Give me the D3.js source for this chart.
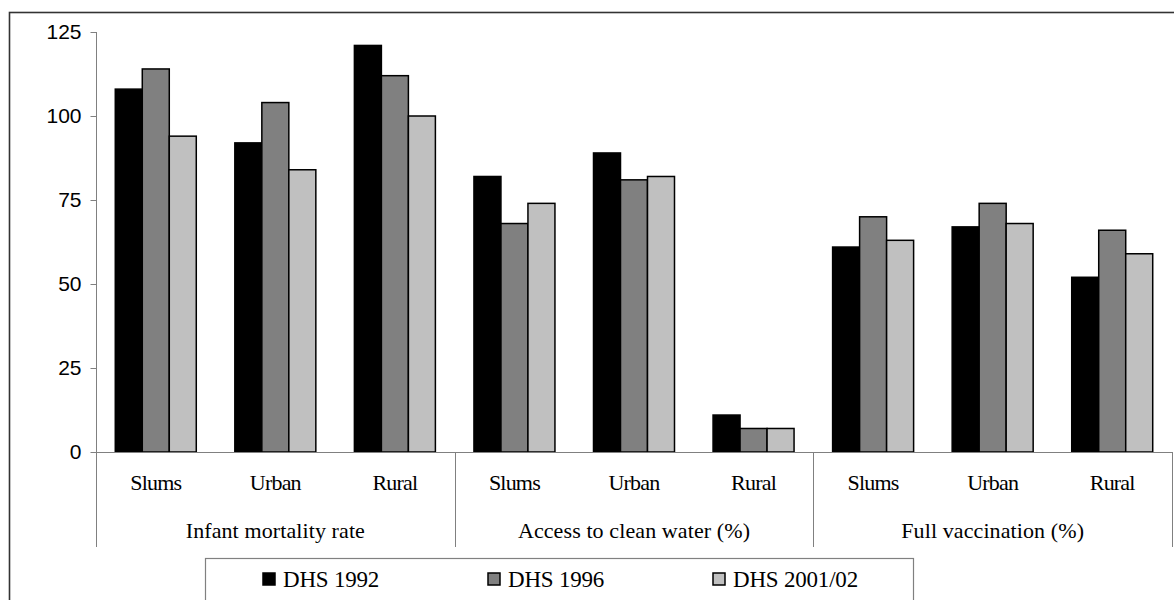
<!DOCTYPE html>
<html>
<head>
<meta charset="utf-8">
<script src="https://cdn.jsdelivr.net/npm/d3@7"></script>
<style>
  html, body { margin: 0; padding: 0; background: #fff; }
  svg { display: block; }
  .serif { font-family: "Liberation Serif", "Times New Roman", Times, serif; }
  .sans { font-family: "Liberation Sans", Arial, Helvetica, sans-serif; }
</style>
</head>
<body>
<svg id="chart" width="1174" height="600"></svg>
<script>
// ---- Data ----
const groups = ["Infant mortality rate", "Access to clean water (%)", "Full vaccination (%)"];
const subcategories = ["Slums", "Urban", "Rural"];
const seriesNames = ["DHS 1992", "DHS 1996", "DHS 2001/02"];
const dhs1992 = [108, 92, 121, 82, 89, 11, 61, 67, 52];
const dhs1996 = [114, 104, 112, 68, 81, 7, 70, 74, 66];
const dhs2001 = [94, 84, 100, 74, 82, 7, 63, 68, 59];
const yTicks = [0, 25, 50, 75, 100, 125];

// ---- Layout ----
const svg = d3.select("#chart");
const plotLeft = 96, plotRight = 1172, plotTop = 32, plotBottom = 452;
const colors = ["#000000", "#808080", "#c0c0c0"];
const seriesValues = [dhs1992, dhs1996, dhs2001];

const slots = [];
groups.forEach((g, gi) => subcategories.forEach((s, si) => slots.push({ key: gi + "-" + si, group: g, sub: s, idx: gi * 3 + si })));

const x = d3.scaleBand().domain(slots.map(d => d.key)).range([plotLeft, plotRight]).padding(0);
const xs = d3.scaleBand().domain(seriesNames).range([0, x.bandwidth()]).paddingInner(0).paddingOuter(0.714);
const y = d3.scaleLinear().domain([0, 125]).range([plotBottom, plotTop]);

// outer border
svg.append("rect")
  .attr("x", 9.5).attr("y", 12.5).attr("width", 1180).attr("height", 620)
  .attr("fill", "none").attr("stroke", "#333").attr("stroke-width", 1.6);

// bars
const barG = svg.append("g");
slots.forEach(slot => {
  seriesNames.forEach((sn, si) => {
    const v = seriesValues[si][slot.idx];
    barG.append("rect")
      .attr("x", x(slot.key) + xs(sn))
      .attr("y", y(v))
      .attr("width", xs.bandwidth())
      .attr("height", y(0) - y(v))
      .attr("fill", colors[si])
      .attr("stroke", "#000")
      .attr("stroke-width", 1.5);
  });
});

// y axis
const yAxis = d3.axisLeft(y).tickValues(yTicks).tickSize(6).tickSizeOuter(0).tickPadding(9);
const yg = svg.append("g").attr("transform", `translate(${plotLeft + 0.5},0)`).call(yAxis);
yg.attr("font-family", null).attr("font-size", null);
yg.select(".domain").remove();
yg.selectAll(".tick line").attr("stroke", "#808080");
yg.selectAll(".tick text")
  .attr("class", "sans")
  .style("font-size", "21px").attr("fill", "#000");

const lineCol = "#808080";
svg.append("line").attr("x1", plotLeft + 0.5).attr("x2", plotLeft + 0.5).attr("y1", plotTop).attr("y2", 547).attr("stroke", lineCol);
svg.append("line").attr("x1", plotLeft).attr("x2", plotRight).attr("y1", plotBottom + 0.5).attr("y2", plotBottom + 0.5).attr("stroke", lineCol);

// group separators
groups.forEach((g, gi) => {
  const xr = x(gi + "-2") + x.bandwidth();
  svg.append("line").attr("x1", Math.round(xr) + 0.5).attr("x2", Math.round(xr) + 0.5)
    .attr("y1", plotBottom).attr("y2", 547).attr("stroke", lineCol);
});

// subcategory labels
svg.append("g").selectAll("text").data(slots).join("text")
  .attr("class", "serif")
  .attr("x", d => x(d.key) + x.bandwidth() / 2)
  .attr("y", 490)
  .attr("text-anchor", "middle")
  .style("font-size", "22px")
  .style("letter-spacing", "-0.8px")
  .text(d => d.sub);

// group labels
svg.append("g").selectAll("text").data(groups).join("text")
  .attr("class", "serif")
  .attr("x", (d, i) => x(i + "-1") + x.bandwidth() / 2)
  .attr("y", 538)
  .attr("text-anchor", "middle")
  .style("font-size", "22px")
  .style("letter-spacing", "0.1px")
  .text(d => d);

// legend
svg.append("rect").attr("x", 205.5).attr("y", 558.5).attr("width", 708).attr("height", 80)
  .attr("fill", "#fff").attr("stroke", lineCol).attr("stroke-width", 1.2);
const legendX = [263, 488, 713];
seriesNames.forEach((sn, i) => {
  svg.append("rect").attr("x", legendX[i]).attr("y", 573).attr("width", 12).attr("height", 12)
    .attr("fill", colors[i]).attr("stroke", "#000").attr("stroke-width", 1.5);
  svg.append("text").attr("class", "serif").attr("x", legendX[i] + 20).attr("y", 587)
    .style("font-size", "23px")
    .style("letter-spacing", "-0.2px")
    .text(sn);
});
</script>
</body>
</html>
